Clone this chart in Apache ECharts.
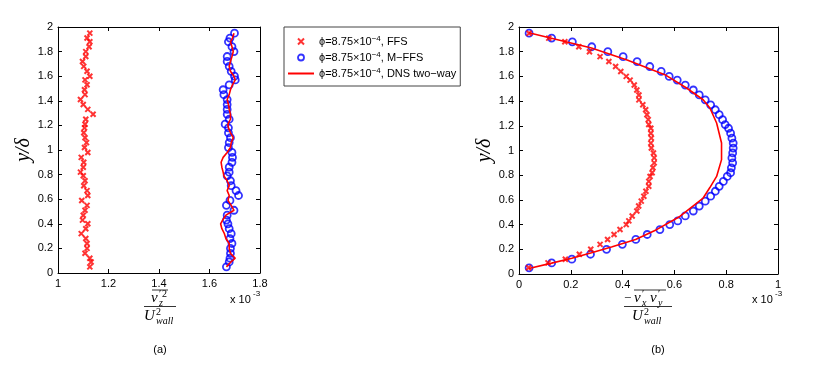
<!DOCTYPE html>
<html>
<head>
<meta charset="utf-8">
<script src="https://cdn.jsdelivr.net/npm/echarts@6/dist/echarts.min.js"></script>
<style>
html, body { margin: 0; padding: 0; background: #fff; }
#chart { width: 830px; height: 372px; }
</style>
</head>
<body>
<div id="chart"></div>
<script>
// y/delta positions of the sampled points (bottom -> top)
const yPos = [0.05, 0.09, 0.12, 0.16, 0.20, 0.24, 0.28, 0.32, 0.36, 0.40,
    0.43, 0.47, 0.51, 0.55, 0.59, 0.63, 0.67, 0.71, 0.75, 0.79,
    0.82, 0.86, 0.90, 0.94, 0.98, 1.02, 1.06, 1.10, 1.14, 1.18,
    1.21, 1.25, 1.29, 1.33, 1.37, 1.41, 1.45, 1.49, 1.53, 1.57,
    1.60, 1.64, 1.68, 1.72, 1.76, 1.80, 1.84, 1.88, 1.91, 1.95];

// (a) v_z'^2 / U_wall^2, in units of 1e-3
const ffsA = [1.126, 1.131, 1.126, 1.107, 1.115, 1.115, 1.110, 1.092, 1.110, 1.118,
    1.097, 1.100, 1.107, 1.115, 1.094, 1.118, 1.115, 1.102, 1.107, 1.100,
    1.089, 1.100, 1.102, 1.092, 1.118, 1.105, 1.113, 1.107, 1.102, 1.105,
    1.107, 1.110, 1.139, 1.118, 1.100, 1.089, 1.107, 1.105, 1.115, 1.107,
    1.126, 1.115, 1.102, 1.097, 1.110, 1.110, 1.123, 1.126, 1.115, 1.126];
const mffsA = [1.667, 1.678, 1.681, 1.683, 1.683, 1.689, 1.681, 1.686, 1.678, 1.673,
    1.667, 1.670, 1.697, 1.667, 1.681, 1.715, 1.705, 1.686, 1.683, 1.670,
    1.678, 1.678, 1.689, 1.691, 1.689, 1.675, 1.678, 1.683, 1.675, 1.675,
    1.662, 1.678, 1.670, 1.670, 1.670, 1.670, 1.657, 1.654, 1.678, 1.702,
    1.699, 1.686, 1.678, 1.670, 1.670, 1.697, 1.689, 1.675, 1.681, 1.699];
const dnsA = [1.667, 1.685, 1.702, 1.683, 1.678, 1.678, 1.665, 1.659, 1.649, 1.644,
    1.652, 1.665, 1.697, 1.686, 1.673, 1.678, 1.670, 1.678, 1.670, 1.657,
    1.654, 1.649, 1.646, 1.654, 1.670, 1.683, 1.686, 1.694, 1.683, 1.675,
    1.673, 1.683, 1.683, 1.678, 1.675, 1.670, 1.678, 1.683, 1.691, 1.702,
    1.697, 1.683, 1.678, 1.683, 1.689, 1.694, 1.689, 1.683, 1.691, 1.697];

// (b) -v_x'v_y' / U_wall^2, in units of 1e-3
const ffsB = [0.037, 0.112, 0.179, 0.233, 0.277, 0.313, 0.342, 0.367, 0.390, 0.414,
    0.424, 0.437, 0.455, 0.462, 0.472, 0.482, 0.490, 0.501, 0.501, 0.506,
    0.514, 0.517, 0.522, 0.522, 0.519, 0.511, 0.509, 0.511, 0.509, 0.509,
    0.501, 0.499, 0.494, 0.489, 0.478, 0.463, 0.463, 0.455, 0.445, 0.429,
    0.414, 0.393, 0.373, 0.347, 0.313, 0.272, 0.231, 0.177, 0.115, 0.039];
const mffsB = [0.039, 0.126, 0.204, 0.276, 0.338, 0.399, 0.451, 0.495, 0.544, 0.582,
    0.613, 0.642, 0.673, 0.696, 0.719, 0.740, 0.758, 0.773, 0.789, 0.804,
    0.817, 0.820, 0.825, 0.822, 0.825, 0.827, 0.827, 0.822, 0.817, 0.809,
    0.796, 0.786, 0.773, 0.758, 0.740, 0.719, 0.696, 0.673, 0.642, 0.611,
    0.580, 0.549, 0.505, 0.456, 0.402, 0.343, 0.281, 0.206, 0.126, 0.039];
const dnsBx = [0.038, 0.126, 0.204, 0.28, 0.36, 0.45, 0.531, 0.621, 0.711, 0.737, 0.763,
    0.782, 0.782, 0.763, 0.737, 0.711, 0.647, 0.563, 0.42, 0.28, 0.038];
const dnsBy = [0.045, 0.088, 0.128, 0.172, 0.22, 0.28, 0.359, 0.466, 0.615, 0.70, 0.79,
    0.926, 1.061, 1.223, 1.344, 1.411, 1.506, 1.614, 1.73, 1.83, 1.954];

const seriesNames = ['FFS', 'M\u2212FFS', 'DNS two\u2212way'];

const SANS = 'Liberation Sans, Arial, sans-serif';
const SERIF = 'Liberation Serif, serif';
const crossPath = 'path://M0,0L10,10M10,0L0,10';

function pairs(xs, ys) {
    return xs.map((x, i) => [x, ys[i]]);
}

function xAxes(grid, min, max, interval) {
    const base = {
        gridIndex: grid, type: 'value', min: min, max: max, interval: interval,
        axisLine: { show: true, onZero: false, lineStyle: { color: '#000', width: 1 } },
        axisTick: { show: true, inside: true, length: 4, lineStyle: { color: '#000' } },
        splitLine: { show: false }
    };
    return [
        Object.assign({}, base, {
            position: 'bottom',
            axisLabel: { color: '#000', fontSize: 11, fontFamily: SANS, margin: 5,
                showMinLabel: true, showMaxLabel: true }
        }),
        Object.assign({}, base, { position: 'top', axisLabel: { show: false } })
    ];
}

function yAxes(grid) {
    const base = {
        gridIndex: grid, type: 'value', min: 0, max: 2, interval: 0.2,
        axisLine: { show: true, onZero: false, lineStyle: { color: '#000', width: 1 } },
        axisTick: { show: true, inside: true, length: 4, lineStyle: { color: '#000' } },
        splitLine: { show: false }
    };
    return [
        Object.assign({}, base, {
            position: 'left',
            name: 'y/\u03b4', nameLocation: 'middle', nameGap: 22, nameRotate: 90,
            nameTextStyle: { fontFamily: SERIF, fontStyle: 'italic', fontSize: 20, color: '#000' },
            axisLabel: { color: '#000', fontSize: 11, fontFamily: SANS, margin: 5,
                showMinLabel: true, showMaxLabel: true }
        }),
        Object.assign({}, base, { position: 'right', axisLabel: { show: false } })
    ];
}

function ffsSeries(xi, yi, data) {
    return {
        name: seriesNames[0], type: 'scatter', xAxisIndex: xi, yAxisIndex: yi,
        data: data, symbol: crossPath, symbolSize: 5,
        itemStyle: { color: '#ff0000', borderColor: '#ff0000', borderWidth: 2 },
        z: 3
    };
}

function mffsSeries(xi, yi, data) {
    return {
        name: seriesNames[1], type: 'scatter', xAxisIndex: xi, yAxisIndex: yi,
        data: data, symbol: 'circle', symbolSize: 7,
        itemStyle: { color: 'rgba(255,255,255,0)', borderColor: '#0000ff', borderWidth: 1.8 },
        z: 2
    };
}

function dnsSeries(xi, yi, data) {
    return {
        name: seriesNames[2], type: 'line', xAxisIndex: xi, yAxisIndex: yi,
        data: data, symbol: 'none', smooth: false,
        lineStyle: { color: '#ff0000', width: 1.6 },
        itemStyle: { color: '#ff0000' },
        z: 4
    };
}

// text pieces of the axis titles (fractions) and captions
function txt(x, y, text, font, align, valign) {
    return {
        type: 'text', x: x, y: y, silent: true,
        style: { text: text, font: font, fill: '#000', align: align || 'left', verticalAlign: valign || 'top' }
    };
}
function hline(x1, x2, y) {
    return { type: 'line', silent: true, shape: { x1: x1, y1: y, x2: x2, y2: y },
        style: { stroke: '#000', lineWidth: 0.8 } };
}

const it14 = 'italic 15px ' + SERIF;
const it9 = 'italic 10px ' + SERIF;
const rm9 = '10px ' + SERIF;
const sans11 = '11px ' + SANS;
const sans8 = '8px ' + SANS;

function fracA(cx) {
    return [
        hline(cx - 8, cx + 8, 290),
        txt(cx - 9, 291, 'v', it14),
        txt(cx - 1, 289, '\u2032', rm9),
        txt(cx + 2, 289, '2', rm9),
        txt(cx - 1, 298, 'z', it9),
        hline(cx - 16, cx + 16, 306.5),
        txt(cx - 16, 309, 'U', it14),
        txt(cx - 4, 307, '2', rm9),
        txt(cx - 4, 316, 'wall', it9)
    ];
}

function fracB(cx) {
    return [
        txt(cx - 24, 292, '\u2212', '13px ' + SERIF),
        hline(cx - 14, cx + 18, 290),
        txt(cx - 14, 291, 'v', it14),
        txt(cx - 6, 289, '\u2032', rm9),
        txt(cx - 6, 298, 'x', it9),
        txt(cx + 2, 291, 'v', it14),
        txt(cx + 10, 289, '\u2032', rm9),
        txt(cx + 10, 298, 'y', it9),
        hline(cx - 24, cx + 24, 306.5),
        txt(cx - 16, 309, 'U', it14),
        txt(cx - 4, 307, '2', rm9),
        txt(cx - 4, 316, 'wall', it9)
    ];
}

function scaleNote(x) {
    return [txt(x, 294, 'x 10', sans11), txt(x + 23, 290, '-3', sans8)];
}

const chart = echarts.init(document.getElementById('chart'));

const option = {
    backgroundColor: '#fff',
    animation: false,
    grid: [
        { left: 58, top: 27, width: 202, height: 246 },
        { left: 519, top: 27, width: 259, height: 247 }
    ],
    xAxis: xAxes(0, 1, 1.8, 0.2).concat(xAxes(1, 0, 1, 0.2)),
    yAxis: yAxes(0).concat(yAxes(1)),
    legend: {
        left: 284, top: 27, orient: 'vertical',
        itemWidth: 26, itemHeight: 6, itemGap: 4,
        padding: [8, 4, 7, 3],
        borderColor: '#444', borderWidth: 1, backgroundColor: '#fff',
        selectedMode: false,
        textStyle: {
            color: '#000', fontSize: 11, fontFamily: SANS,
            rich: {
                t: { fontSize: 11, fontFamily: SANS, color: '#000' },
                sup: { fontSize: 8, fontFamily: SANS, color: '#000', verticalAlign: 'top', padding: [0, 0, 5, 0] }
            }
        },
        formatter: name => '{t|\u03d5=8.75\u00d710}{sup|\u22124}{t|, ' + name + '}',
        data: [
            { name: seriesNames[0], icon: crossPath,
              itemStyle: { color: '#ff0000', borderColor: '#ff0000', borderWidth: 2 } },
            { name: seriesNames[1], icon: 'circle',
              itemStyle: { color: 'rgba(255,255,255,0)', borderColor: '#0000ff', borderWidth: 1.8 } },
            { name: seriesNames[2], itemStyle: { opacity: 0 } }
        ]
    },
    graphic: [].concat(
        fracA(160), fracB(648),
        scaleNote(230), scaleNote(752),
        [txt(160, 344, '(a)', sans11, 'center'), txt(658, 344, '(b)', sans11, 'center')]
    ),
    series: [
        dnsSeries(0, 0, pairs(dnsA, yPos)),
        mffsSeries(0, 0, pairs(mffsA, yPos)),
        ffsSeries(0, 0, pairs(ffsA, yPos)),
        dnsSeries(2, 2, pairs(dnsBx, dnsBy)),
        mffsSeries(2, 2, pairs(mffsB, yPos)),
        ffsSeries(2, 2, pairs(ffsB, yPos))
    ]
};

chart.setOption(option);
</script>
</body>
</html>
